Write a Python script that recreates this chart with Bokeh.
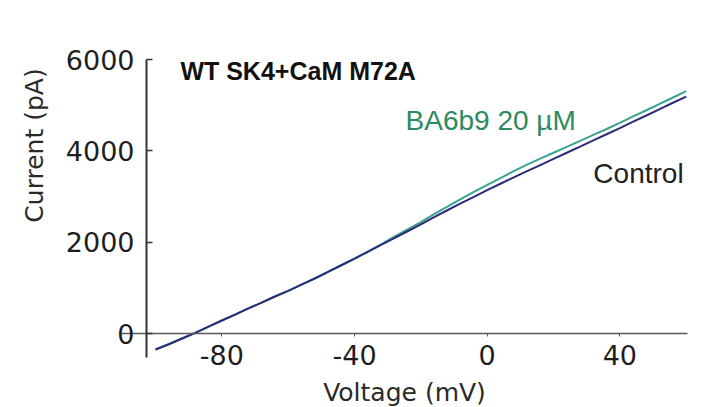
from bokeh.plotting import figure
from bokeh.models import LinearAxis, FixedTicker, Range1d, Label, ColumnDataSource
from bokeh.embed import file_html
from bokeh.resources import INLINE

# ---- data ----
voltage_mv = [-100, -96, -92, -88, -84, -80, -76, -72, -68, -64, -60, -56, -52, -48,
              -44, -40, -36, -32, -28, -24, -20, -16, -12, -8, -4, 0, 4, 8, 12, 16,
              20, 24, 28, 32, 36, 40, 44, 48, 52, 56, 60]
control_pa = [-350, -235, -110, 15, 150, 285, 415, 550, 675, 810, 935, 1070, 1205, 1350,
              1495, 1640, 1790, 1940, 2090, 2240, 2390, 2550, 2700, 2850, 2995, 3140, 3280,
              3420, 3555, 3690, 3825, 3960, 4095, 4230, 4365, 4500, 4640, 4775, 4915, 5055, 5190]
ba6b9_pa = [-350, -235, -110, 15, 150, 285, 415, 550, 675, 810, 935, 1070, 1205, 1350,
            1495, 1640, 1795, 1955, 2120, 2280, 2440, 2615, 2780, 2945, 3100, 3255, 3405,
            3555, 3700, 3830, 3960, 4090, 4220, 4350, 4480, 4615, 4755, 4890, 5030, 5170, 5308]
x_ticks = [-80, -40, 0, 40]
x_tick_labels = {-80: "-80", -40: "-40", 0: "0", 40: "40"}
y_ticks = [0, 2000, 4000, 6000]

title_text = "WT SK4+CaM M72A"
label_drug = "BA6b9 20 \u00b5M"
label_control = "Control"

src = ColumnDataSource(dict(v=voltage_mv, ctrl=control_pa, drug=ba6b9_pa))

# plot frame fills the whole canvas; axes are drawn at fixed data locations
p = figure(width=703, height=407, output_backend="svg", toolbar_location=None,
           x_range=Range1d(-146.73, 65.21), y_range=Range1d(-1621.0, 7294.6),
           x_axis_location=None, y_axis_location=None,
           min_border_left=0, min_border_right=0, min_border_top=0, min_border_bottom=0,
           background_fill_color="white", border_fill_color="white")
p.outline_line_color = None
p.grid.visible = False

yax = LinearAxis(fixed_location=-102.7, bounds=(-526, 6000), ticker=FixedTicker(ticks=y_ticks),
                 axis_line_color="#333333", axis_line_width=2,
                 major_tick_in=6, major_tick_out=0, major_tick_line_color="#333333",
                 major_tick_line_width=1.5, minor_tick_line_color=None,
                 major_label_standoff=12, major_label_text_font="DejaVu Sans",
                 major_label_text_font_size="27px", major_label_text_color="#1e1e1e")
p.add_layout(yax, "left")

ytitle = LinearAxis(fixed_location=-102.7, bounds=(2236, 6000), ticker=FixedTicker(ticks=[]),
                    axis_line_color=None, major_tick_line_color=None, minor_tick_line_color=None,
                    major_tick_in=0, major_tick_out=0, major_label_standoff=0,
                    axis_label="Current (pA)", axis_label_standoff=98,
                    axis_label_text_font="DejaVu Sans", axis_label_text_font_size="25px",
                    axis_label_text_font_style="normal", axis_label_text_color="#2a2a2a")
p.add_layout(ytitle, "left")

xax = LinearAxis(fixed_location=0, bounds=(-110.2, 60.5), ticker=FixedTicker(ticks=x_ticks),
                 major_label_overrides=x_tick_labels,
                 axis_line_color="#5a5a5a", axis_line_width=1.5,
                 major_tick_in=0, major_tick_out=3, major_tick_line_color="#5a5a5a",
                 minor_tick_line_color=None,
                 major_label_standoff=8, major_label_text_font="DejaVu Sans",
                 major_label_text_font_size="27px", major_label_text_color="#1e1e1e",
                 axis_label="Voltage (mV)", axis_label_standoff=10,
                 axis_label_text_font="DejaVu Sans", axis_label_text_font_size="25px",
                 axis_label_text_font_style="normal", axis_label_text_color="#2a2a2a")
p.add_layout(xax, "below")

p.line("v", "drug", source=src, line_color="#3aa390", line_width=2)
p.line("v", "ctrl", source=src, line_color="#2c2c78", line_width=2)

p.add_layout(Label(x=-92.5, y=5761, text=title_text, text_baseline="middle",
                   text_font="Liberation Sans", text_font_style="bold",
                   text_font_size="25px", text_color="#111111"))
p.add_layout(Label(x=-24.6, y=4666, text=label_drug, text_baseline="middle",
                   text_font="Liberation Sans", text_font_size="28px", text_color="#2e8a60"))
p.add_layout(Label(x=32.0, y=3505, text=label_control, text_baseline="middle",
                   text_font="Liberation Sans", text_font_size="28px", text_color="#222222"))

open("out.html", "w").write(file_html(p, INLINE))
